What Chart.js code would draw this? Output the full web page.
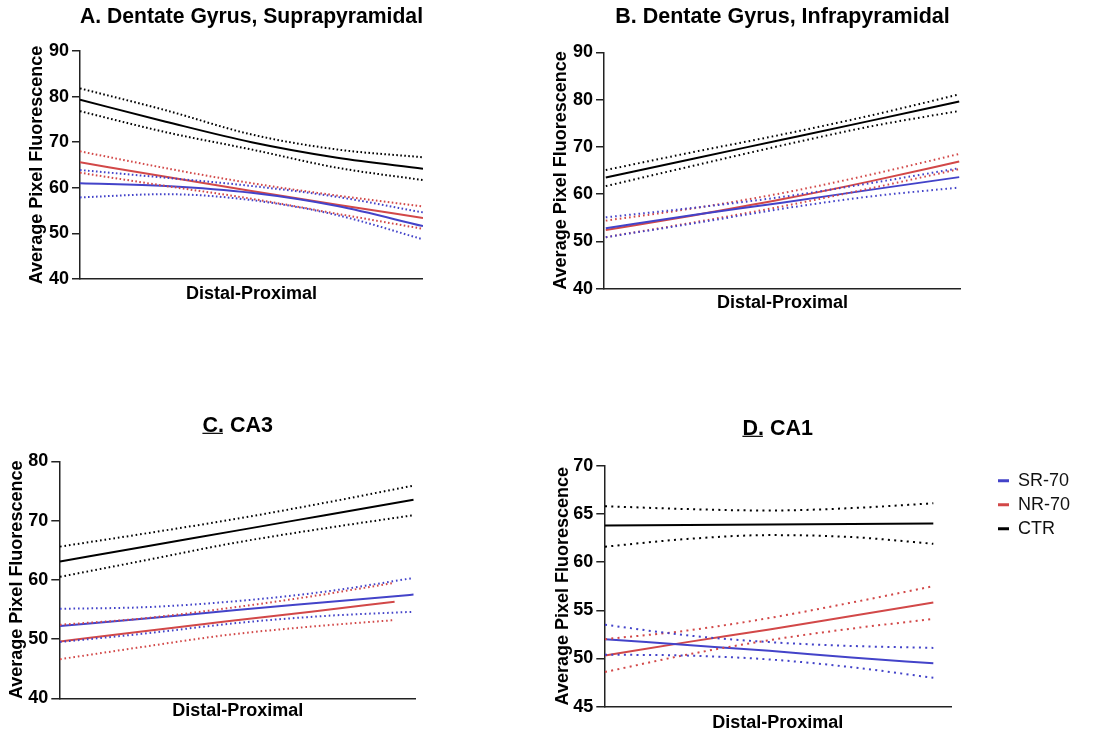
<!DOCTYPE html>
<html lang="en">

<head>
  <meta charset="UTF-8" />
  <title>Average Pixel Fluorescence - Distal-Proximal</title>
  <script src="https://cdn.jsdelivr.net/npm/chart.js"></script>
  <style>
    body {
      margin: 0;
      width: 1100px;
      height: 734px;
      overflow: hidden;
      position: relative;
      background: #fff;
    }

    .painel {
      position: absolute;
    }
  </style>
</head>

<body>
  <div class="painel" style="left: 0px; top: 0px; width: 423px; height: 310px"><canvas id="canvas_grafico_a"></canvas></div>
  <div class="painel" style="left: 524px; top: 0px; width: 437px; height: 319px"><canvas id="canvas_grafico_b"></canvas></div>
  <div class="painel" style="left: -21px; top: 409px; width: 437px; height: 318px"><canvas id="canvas_grafico_c"></canvas></div>
  <div class="painel" style="left: 526px; top: 412px; width: 566px; height: 327px"><canvas id="canvas_grafico_d"></canvas></div>
</body>

</html>
<script>
  var grupos = ["SR-70", "NR-70", "CTR"];
  var cores = ["#4343c9", "#d24848", "#000000"];
  var fonte = '"Liberation Sans", Arial, sans-serif';

  // A. Dentate Gyrus, Suprapyramidal
  var x_a = [0, 2.5, 5, 7.5, 10];
  var a_sr70 = [61.0, 60.4, 58.9, 56.0, 51.6];
  var a_sr70_sup = [63.9, 62.2, 60.4, 58.0, 54.6];
  var a_sr70_inf = [57.9, 58.6, 57.3, 54.0, 48.7];
  var a_nr70 = [65.6, 62.4, 59.3, 56.3, 53.4];
  var a_nr70_sup = [68.0, 64.3, 61.0, 58.3, 55.9];
  var a_nr70_inf = [63.3, 60.4, 57.6, 54.3, 51.0];
  var a_ctr = [79.3, 74.5, 70.0, 66.6, 64.2];
  var a_ctr_sup = [81.8, 77.0, 71.7, 68.4, 66.7];
  var a_ctr_inf = [76.8, 72.2, 68.4, 64.4, 61.7];

  // B. Dentate Gyrus, Infrapyramidal
  var x_b = [0.05, 2.5, 4.98, 7.45, 9.95];
  var b_sr70 = [52.8, 55.6, 58.2, 60.9, 63.6];
  var b_sr70_sup = [55.1, 57.1, 59.4, 62.3, 65.5];
  var b_sr70_inf = [50.9, 53.8, 56.9, 59.5, 61.4];
  var b_nr70 = [52.4, 55.5, 58.9, 62.7, 66.9];
  var b_nr70_sup = [54.4, 57.0, 60.2, 64.1, 68.5];
  var b_nr70_inf = [50.9, 54.0, 57.4, 61.2, 65.3];
  var b_ctr = [63.5, 67.5, 71.5, 75.5, 79.6];
  var b_ctr_sup = [65.1, 68.9, 72.6, 76.6, 81.1];
  var b_ctr_inf = [61.7, 66.0, 70.3, 74.3, 77.6];

  // C. CA3
  var x_c = [0.02, 2.5, 4.97, 7.45, 9.93];
  var x_c_nr70 = [0.02, 2.37, 4.71, 7.06, 9.4];
  var c_sr70 = [52.2, 53.5, 54.9, 56.2, 57.5];
  var c_sr70_sup = [55.1, 55.4, 56.4, 58.0, 60.3];
  var c_sr70_inf = [49.5, 51.0, 52.7, 53.9, 54.6];
  var c_nr70 = [49.6, 51.3, 53.0, 54.6, 56.3];
  var c_nr70_sup = [52.4, 53.5, 55.2, 57.2, 59.5];
  var c_nr70_inf = [46.6, 48.7, 50.7, 52.1, 53.2];
  var c_ctr = [63.1, 65.7, 68.3, 70.9, 73.5];
  var c_ctr_sup = [65.6, 67.9, 70.3, 73.0, 75.9];
  var c_ctr_inf = [60.5, 63.4, 66.3, 68.7, 70.9];

  // D. CA1
  var x_d = [0.02, 2.39, 4.76, 7.13, 9.49];
  var d_sr70 = [52.0, 51.4, 50.8, 50.1, 49.5];
  var d_sr70_sup = [53.5, 52.4, 51.7, 51.3, 51.1];
  var d_sr70_inf = [50.4, 50.3, 49.9, 49.1, 48.0];
  var d_nr70 = [50.3, 51.7, 53.0, 54.4, 55.8];
  var d_nr70_sup = [52.0, 52.9, 54.2, 55.8, 57.5];
  var d_nr70_inf = [48.6, 50.4, 51.9, 53.1, 54.1];
  var d_ctr = [63.8, 63.85, 63.9, 63.95, 64.0];
  var d_ctr_sup = [65.8, 65.5, 65.35, 65.6, 66.1];
  var d_ctr_inf = [61.6, 62.4, 62.8, 62.6, 61.9];

  var titulo_y = "Average Pixel Fluorescence";
  var titulo_x = "Distal-Proximal";

  function linha(rotulo, xs, ys, cor, tracejado) {
    return {
      label: rotulo,
      data: xs.map(function (x, i) { return { x: x, y: ys[i] }; }),
      borderColor: cor,
      backgroundColor: cor,
      borderWidth: 2,
      borderDash: tracejado,
      borderCapStyle: "butt",
      pointRadius: 0,
      cubicInterpolationMode: "monotone",
      fill: false,
    };
  }

  function montar_series(xs, medias, superiores, inferiores, tracejado) {
    var series = [];
    for (var i = 0; i < grupos.length; i++) {
      series.push(linha(grupos[i] + " upper", xs[i], superiores[i], cores[i], tracejado));
      series.push(linha(grupos[i] + " lower", xs[i], inferiores[i], cores[i], tracejado));
    }
    for (var j = 0; j < grupos.length; j++) {
      series.push(linha(grupos[j], xs[j], medias[j], cores[j], []));
    }
    return series;
  }

  // underline under the panel letter of the title
  var plugin_sublinhado = {
    id: "sublinhado",
    afterDraw: function (chart, args, opcoes) {
      if (!opcoes.texto) return;
      var bloco = chart.titleBlock;
      var ctx = chart.ctx;
      ctx.save();
      ctx.font = "bold 21.5px " + fonte;
      ctx.textBaseline = "middle";
      var total = ctx.measureText(bloco.options.text).width;
      var parte = ctx.measureText(opcoes.texto);
      var x0 = (bloco.left + bloco.right) / 2 - total / 2;
      var y = bloco.top + 4 + 12.9 + parte.actualBoundingBoxDescent + 1.5;
      ctx.strokeStyle = "#000";
      ctx.lineWidth = 1.2;
      ctx.beginPath();
      ctx.moveTo(x0, y);
      ctx.lineTo(x0 + parte.width - 1, y);
      ctx.stroke();
      ctx.restore();
    },
  };

  // fixed legend width so the plot area keeps its place
  var plugin_largura_legenda = {
    id: "largura_legenda",
    beforeLayout: function (chart, args, opcoes) {
      var legenda = chart.legend;
      if (!opcoes.largura || !legenda || legenda.largura_fixa) return;
      var fit = legenda.fit;
      legenda.fit = function () {
        fit.call(this);
        this.width = opcoes.largura;
      };
      legenda.largura_fixa = true;
    },
  };

  function criar_grafico(id, titulo, series, cfg) {
    var escalas = {
      x: {
        type: "linear",
        min: 0,
        max: 10,
        grid: { display: false },
        border: { display: true, color: "#222", width: 1.5 },
        ticks: { display: false },
        title: {
          display: true,
          text: titulo_x,
          color: "#000",
          font: { family: fonte, size: 18, weight: "bold" },
          padding: { top: 0, bottom: cfg.x_titulo_pb },
        },
        afterFit: function (escala) { escala.height = cfg.altura_x; },
      },
      y: {
        min: cfg.y_min,
        max: cfg.y_max,
        ticks: {
          stepSize: cfg.y_passo,
          color: "#000",
          padding: 3,
          font: { family: fonte, size: 18, weight: "bold" },
        },
        grid: { drawOnChartArea: false, drawTicks: true, tickLength: 8, color: "#222", lineWidth: 1.5 },
        border: { display: true, color: "#222", width: 1.5 },
        title: {
          display: true,
          text: titulo_y,
          color: "#000",
          font: { family: fonte, size: 18, weight: "bold" },
          padding: { top: 6, bottom: 0 },
        },
        afterFit: function (escala) { escala.width = cfg.largura_y; },
      },
    };

    if (cfg.folga_direita) {
      escalas.folga = {
        type: "linear",
        position: "right",
        grid: { display: false },
        border: { display: false },
        ticks: { display: false },
        afterFit: function (escala) { escala.width = cfg.folga_direita; },
      };
    }

    new Chart(document.getElementById(id), {
      type: "line",
      data: { datasets: series },
      options: {
        responsive: true,
        maintainAspectRatio: false,
        animation: false,
        layout: { padding: { left: cfg.pad_esq, top: 0, right: 0, bottom: 0 } },
        scales: escalas,
        plugins: {
          tooltip: { enabled: false },
          title: {
            display: true,
            text: titulo,
            fullSize: false,
            color: "#000",
            font: { family: fonte, size: 21.5, weight: "bold" },
            padding: { top: 4, bottom: cfg.titulo_pb },
          },
          legend: {
            display: !!cfg.legenda,
            position: "right",
            align: "start",
            fullSize: false,
            labels: {
              boxWidth: 11,
              boxHeight: 3,
              padding: 6,
              color: "#000",
              font: { family: fonte, size: 18 },
              generateLabels: function () {
                return grupos.map(function (nome, i) {
                  return { text: nome, fillStyle: cores[i], strokeStyle: cores[i], lineWidth: 0, hidden: false, fontColor: "#111" };
                });
              },
            },
          },
          sublinhado: { texto: cfg.sublinhar || "" },
          largura_legenda: { largura: cfg.largura_legenda || 0 },
        },
      },
      plugins: [plugin_sublinhado, plugin_largura_legenda],
    });
  }

  criar_grafico(
    "canvas_grafico_a",
    "A. Dentate Gyrus, Suprapyramidal",
    montar_series([x_a, x_a, x_a], [a_sr70, a_nr70, a_ctr], [a_sr70_sup, a_nr70_sup, a_ctr_sup], [a_sr70_inf, a_nr70_inf, a_ctr_inf], [1.6, 2.4]),
    { y_min: 40, y_max: 90, y_passo: 10, pad_esq: 20, largura_y: 60, titulo_pb: 21.2, altura_x: 31, x_titulo_pb: 5.2 }
  );

  criar_grafico(
    "canvas_grafico_b",
    "B. Dentate Gyrus, Infrapyramidal",
    montar_series([x_b, x_b, x_b], [b_sr70, b_nr70, b_ctr], [b_sr70_sup, b_nr70_sup, b_ctr_sup], [b_sr70_inf, b_nr70_inf, b_ctr_inf], [1.6, 3.1]),
    { y_min: 40, y_max: 90, y_passo: 10, pad_esq: 20, largura_y: 60, titulo_pb: 22.5, altura_x: 30.3, x_titulo_pb: 4.9 }
  );

  criar_grafico(
    "canvas_grafico_c",
    "C. CA3",
    montar_series([x_c, x_c_nr70, x_c], [c_sr70, c_nr70, c_ctr], [c_sr70_sup, c_nr70_sup, c_ctr_sup], [c_sr70_inf, c_nr70_inf, c_ctr_inf], [1.6, 2.9]),
    { y_min: 40, y_max: 80, y_passo: 10, pad_esq: 21, largura_y: 59.3, titulo_pb: 22.5, altura_x: 28.7, x_titulo_pb: 4.7, sublinhar: "C." }
  );

  criar_grafico(
    "canvas_grafico_d",
    "D. CA1",
    montar_series([x_d, x_d, x_d], [d_sr70, d_nr70, d_ctr], [d_sr70_sup, d_nr70_sup, d_ctr_sup], [d_sr70_inf, d_nr70_inf, d_ctr_inf], [2, 4.3]),
    { y_min: 45, y_max: 70, y_passo: 5, pad_esq: 20, largura_y: 58.3, titulo_pb: 23.9, altura_x: 32.3, x_titulo_pb: 4.9, sublinhar: "D.", legenda: true, folga_direita: 41, largura_legenda: 100 }
  );
</script>
